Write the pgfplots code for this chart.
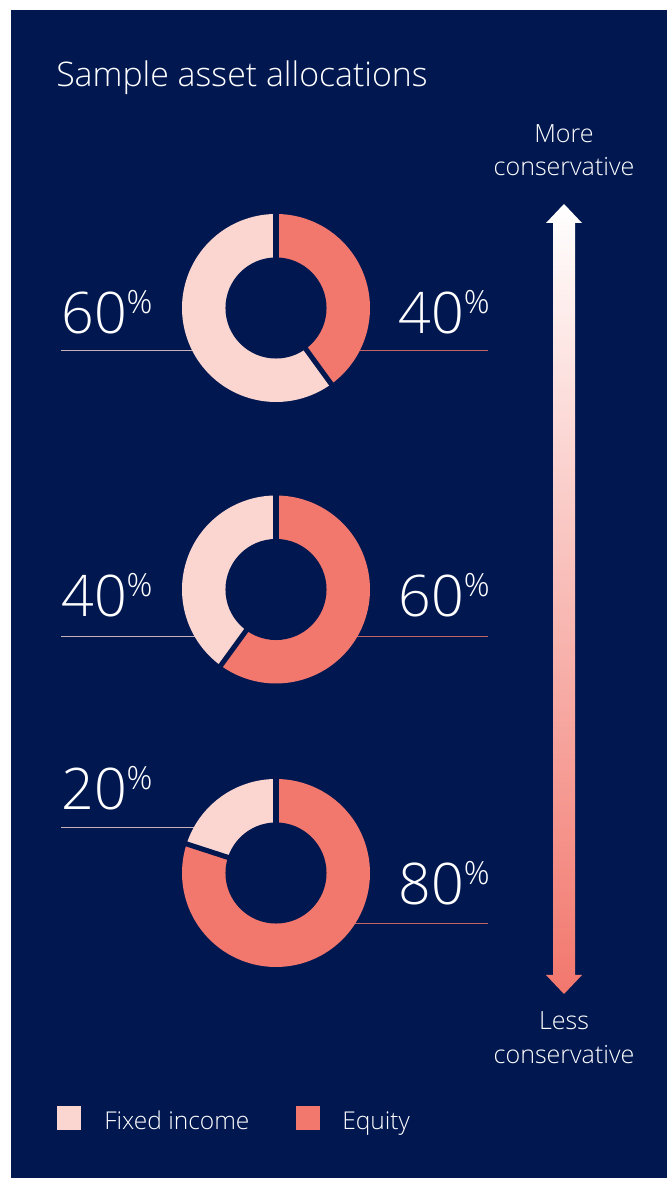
\documentclass[border=0pt]{standalone}
\usepackage{pgfplots}
\pgfplotsset{compat=1.18}
\usepackage{fontspec}
\setmainfont{Open Sans}[UprightFont=* Light]
\definecolor{bg}{RGB}{1,23,80}
\definecolor{fic}{RGB}{251,214,209}
\definecolor{eqc}{RGB}{242,119,109}
\newcommand{\pct}[1]{{\fontsize{43}{43}\selectfont #1}\raisebox{15pt}{\fontsize{24}{24}\selectfont\%}}
% donut: cx, cy, equity share (fixed = 100 - equity)
\newcommand{\donut}[3]{%
  \addplot[draw=eqc, line width=33pt, domain=0:#3, samples=90, variable=\t]
    ({#1+72*sin(3.6*\t)},{#2+72*cos(3.6*\t)});
  \addplot[draw=fic, line width=33pt, domain=#3:100, samples=90, variable=\t]
    ({#1+72*sin(3.6*\t)},{#2+72*cos(3.6*\t)});
  \fill[bg] (axis cs:#1,#2) circle[radius=37.9pt];
  \draw[bg, line width=3.8pt] (axis cs:#1,#2) -- +(90:71pt);
  \draw[bg, line width=3.8pt] (axis cs:#1,#2) -- +({90-3.6*#3}:71pt);
}
\begin{document}
\begin{tikzpicture}
\begin{axis}[hide axis, scale only axis, width=500.25pt, height=883.5pt,
  xmin=0, xmax=667, ymin=0, ymax=1178, clip=false]
\path (axis cs:0,0) rectangle (axis cs:667,1178);
\fill[bg] (axis cs:11,0) rectangle (axis cs:667,1167.5);
% title
\node[anchor=base west, inner sep=0, text=white, font=\fontsize{25.4}{30}\selectfont]
  at (axis cs:56,1091) {Sample asset allocations};
% leader lines
\draw[fic, opacity=0.8, line width=1.1pt] (axis cs:61,827.3) -- (axis cs:276,827.3);
\draw[eqc, opacity=0.8, line width=1.1pt] (axis cs:276,827.3) -- (axis cs:488,827.3);
\draw[fic, opacity=0.8, line width=1.1pt] (axis cs:61,541.3) -- (axis cs:276,541.3);
\draw[eqc, opacity=0.8, line width=1.1pt] (axis cs:276,541.3) -- (axis cs:488,541.3);
\draw[fic, opacity=0.8, line width=1.1pt] (axis cs:61,350.3) -- (axis cs:276,350.3);
\draw[eqc, opacity=0.8, line width=1.1pt] (axis cs:276,254.3) -- (axis cs:488,254.3);
% donuts
\donut{276}{870}{40}
\donut{276}{588.5}{60}
\donut{276}{305}{80}
% labels
\node[anchor=base west, inner sep=0, text=white] at (axis cs:61,844) {\pct{60}};
\node[anchor=base east, inner sep=0, text=white] at (axis cs:490,844) {\pct{40}};
\node[anchor=base west, inner sep=0, text=white] at (axis cs:61,561) {\pct{40}};
\node[anchor=base east, inner sep=0, text=white] at (axis cs:490,561) {\pct{60}};
\node[anchor=base west, inner sep=0, text=white] at (axis cs:61,368) {\pct{20}};
\node[anchor=base east, inner sep=0, text=white] at (axis cs:490,273) {\pct{80}};
% arrow
\shade[top color=white, bottom color=eqc]
  (axis cs:564,974) -- (axis cs:582,955) -- (axis cs:575,955) -- (axis cs:575,203)
  -- (axis cs:582,203) -- (axis cs:564,184) -- (axis cs:546,203) -- (axis cs:553,203)
  -- (axis cs:553,955) -- (axis cs:546,955) -- cycle;
\node[anchor=base, inner sep=0, text=white, font=\fontsize{18.8}{20}\selectfont] at (axis cs:564,1035) {More};
\node[anchor=base, inner sep=0, text=white, font=\fontsize{18.8}{20}\selectfont] at (axis cs:564,1002) {conservative};
\node[anchor=base, inner sep=0, text=white, font=\fontsize{18.8}{20}\selectfont] at (axis cs:564,148) {Less};
\node[anchor=base, inner sep=0, text=white, font=\fontsize{18.8}{20}\selectfont] at (axis cs:564,114) {conservative};
% legend
\fill[fic] (axis cs:57,48) rectangle (axis cs:81,72);
\fill[eqc] (axis cs:296,48) rectangle (axis cs:320,72);
\node[anchor=base west, inner sep=0, text=white, font=\fontsize{18.4}{20}\selectfont] at (axis cs:104,48) {Fixed income};
\node[anchor=base west, inner sep=0, text=white, font=\fontsize{18.4}{20}\selectfont] at (axis cs:342,48) {Equity};
\end{axis}
\end{tikzpicture}
\end{document}
